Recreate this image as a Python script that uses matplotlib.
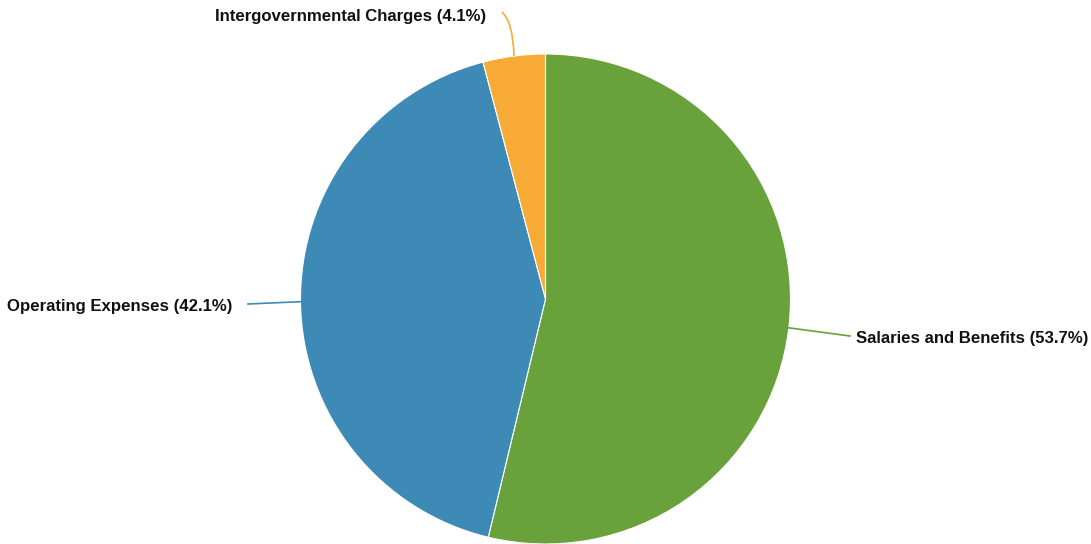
import matplotlib.pyplot as plt
from matplotlib.path import Path
from matplotlib.patches import PathPatch
import numpy as np

# data
categories = ['Salaries and Benefits', 'Operating Expenses', 'Intergovernmental Charges']
shares = [53.7, 42.1, 4.1]
colors = ['#69a13a', '#3c8ab5', '#f7aa36']

W, H = 1091, 544
fig = plt.figure(figsize=(W / 100, H / 100), dpi=100)
ax = fig.add_axes([0, 0, 1, 1])
ax.set_aspect('equal')

cx, cy, r = 545.5, H - 299, 245
wedges, _ = ax.pie(shares, colors=colors, startangle=90, counterclock=False,
                   center=(cx, cy), radius=r, frame=True,
                   wedgeprops=dict(edgecolor='white', linewidth=0.8))
ax.set_xlim(0, W)
ax.set_ylim(0, H)
ax.axis('off')

font = dict(fontsize=12.1, fontweight='bold', family=['Liberation Sans', 'DejaVu Sans'], color='#111111')

# label endpoints (pixel coords, y from top)
ends = [(850, 336), (248, 304), (502, 12)]
text_pos = [(856, 338, 'left'), (232, 306, 'right'), (486, 17, 'right')]

for w, name, val, col, end, tp in zip(wedges, categories, shares, colors, ends, text_pos):
    mid = np.deg2rad((w.theta1 + w.theta2) / 2)
    x0, y0 = cx + r * np.cos(mid), cy + r * np.sin(mid)
    x1, y1 = end[0], H - end[1]
    if name.startswith('Inter'):
        path = Path([(x0, y0), (x0 - 1, H - 22), (x1, y1)], [Path.MOVETO, Path.CURVE3, Path.CURVE3])
        ax.add_patch(PathPatch(path, fill=False, edgecolor=col, lw=1.2))
    else:
        ax.plot([x0, x1], [y0, y1], color=col, lw=1.2)
    ax.text(tp[0], H - tp[1], f'{name} ({val}%)', ha=tp[2], va='center', **font)

fig.savefig('out.png', dpi=100)
